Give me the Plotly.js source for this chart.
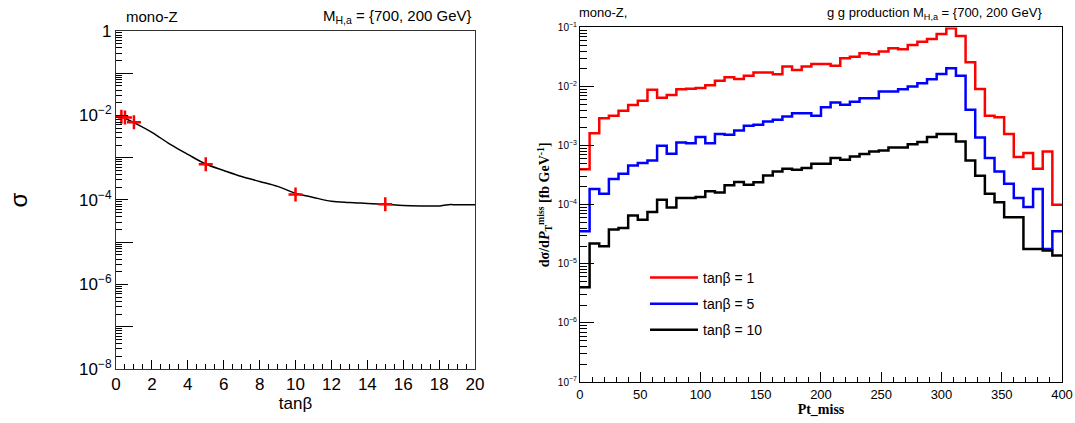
<!DOCTYPE html>
<html>
<head>
<meta charset="utf-8">
<script src="https://cdn.plot.ly/plotly-3.0.1.min.js"></script>
<style>html,body{margin:0;padding:0;background:#fff;}#chart{width:1075px;height:423px;}</style>
</head>
<body>
<div id="chart"></div>
<script>
// ---- Left panel: cross-section vs tan(beta) ----
const tanbPoints = [0.3, 0.5, 1, 5, 10, 15];
const sigmaPoints = [9.3e-3, 9.0e-3, 6.9e-3, 7.0e-4, 1.35e-4, 7.9e-5];

const tanbCurve = [0.3, 0.5, 1, 2, 3, 4, 5, 6, 7, 8, 9, 10, 11, 12, 13, 14, 15, 16, 17, 18, 18.5, 19, 20];
const sigmaCurve = [9.3e-3, 8.6e-3, 6.8e-3, 4.0e-3, 2.1e-3, 1.2e-3, 7.1e-4, 5.0e-4, 3.6e-4, 2.75e-4, 2.1e-4, 1.45e-4, 1.15e-4, 9.3e-5, 8.7e-5, 8.3e-5, 7.9e-5, 7.4e-5, 7.25e-5, 7.25e-5, 7.75e-5, 7.75e-5, 7.75e-5];

// ---- Right panel: dsigma/dPt_miss histograms (50 bins, 0-400 GeV) ----
const ptMin = 0, ptMax = 400, nBins = 50;
const seriesNames = ["tanβ = 1", "tanβ = 5", "tanβ = 10"];
const seriesColors = ["#ff0000", "#0000ff", "#000000"];

const tanb1 = [4.0e-4, 1.63e-3, 2.92e-3, 3.2e-3, 3.89e-3, 4.9e-3, 5.75e-3, 8.8e-3, 6.5e-3, 7.2e-3,
  9.0e-3, 9.2e-3, 9.5e-3, 1.05e-2, 1.25e-2, 1.44e-2, 1.35e-2, 1.53e-2, 1.73e-2, 1.73e-2,
  1.62e-2, 2.18e-2, 1.91e-2, 2.18e-2, 2.42e-2, 2.42e-2, 2.26e-2, 3.02e-2, 3.21e-2, 3.66e-2,
  3.52e-2, 3.91e-2, 4.45e-2, 4.28e-2, 5.06e-2, 5.75e-2, 6.4e-2, 7.76e-2, 9.7e-2, 7.18e-2,
  2.58e-2, 9.1e-3, 3.2e-3, 3.04e-3, 1.58e-3, 6.4e-4, 7.5e-4, 4.07e-4, 7.98e-4, 1.0e-4];

const tanb5 = [3.56e-5, 1.85e-4, 1.54e-4, 2.72e-4, 3.35e-4, 4.63e-4, 5.07e-4, 5.62e-4, 1.0e-3, 7.3e-4,
  1.13e-3, 1.1e-3, 1.4e-3, 1.1e-3, 1.58e-3, 1.53e-3, 1.81e-3, 2.17e-3, 2.25e-3, 2.56e-3,
  2.74e-3, 3.11e-3, 3.55e-3, 3.55e-3, 3.2e-3, 4.49e-3, 5.37e-3, 4.91e-3, 5.52e-3, 6.37e-3,
  6.37e-3, 8.24e-3, 8.24e-3, 9.0e-3, 1.0e-2, 1.14e-2, 1.33e-2, 1.64e-2, 2.04e-2, 1.52e-2,
  4.04e-3, 1.38e-3, 6.17e-4, 3.67e-4, 2.27e-4, 1.3e-4, 9.2e-5, 1.85e-4, 1.79e-5, 3.56e-5];

const tanb10 = [4.03e-6, 2.2e-5, 1.98e-5, 3.8e-5, 4.06e-5, 6.55e-5, 5.6e-5, 7.55e-5, 1.22e-4, 9.0e-5,
  1.3e-4, 1.3e-4, 1.35e-4, 1.69e-4, 1.62e-4, 2.13e-4, 2.43e-4, 2.19e-4, 2.4e-4, 3.14e-4,
  3.67e-4, 4.07e-4, 3.92e-4, 4.18e-4, 4.94e-4, 4.94e-4, 6.17e-4, 5.78e-4, 6.58e-4, 7.21e-4,
  7.98e-4, 8.3e-4, 9.33e-4, 9.33e-4, 1.06e-3, 1.15e-3, 1.4e-3, 1.57e-3, 1.57e-3, 1.18e-3,
  5.62e-4, 3.1e-4, 1.54e-4, 1.1e-4, 6.12e-5, 6.12e-5, 1.79e-5, 1.79e-5, 1.68e-5, 1.38e-5];

const leftTickVals = [1, 1e-2, 1e-4, 1e-6, 1e-8];
const leftTickText = ["1", "10<sup>−2</sup>", "10<sup>−4</sup>", "10<sup>−6</sup>", "10<sup>−8</sup>"];
const leftOddDecades = [1e-1, 1e-3, 1e-5, 1e-7];
const rightTickVals = [1e-1, 1e-2, 1e-3, 1e-4, 1e-5, 1e-6, 1e-7];
const rightTickText = ["10<sup>−1</sup>", "10<sup>−2</sup>", "10<sup>−3</sup>", "10<sup>−4</sup>", "10<sup>−5</sup>", "10<sup>−6</sup>", "10<sup>−7</sup>"];

// minor log ticks (2..9 x each decade)
function minorLogTicks(loExp, hiExp) {
  const v = [];
  for (let e = loExp; e < hiExp; e++) for (let m = 2; m <= 9; m++) v.push(m * Math.pow(10, e));
  return v;
}

// build step-histogram coordinates from bin definitions
const binWidth = (ptMax - ptMin) / nBins;
function stepX() {
  const xs = [];
  for (let i = 0; i <= nBins; i++) xs.push(ptMin + i * binWidth);
  return xs;
}
function stepY(vals) { return vals.concat([vals[vals.length - 1]]); }

const sans = "Liberation Sans, Arial, sans-serif";
const serif = "Liberation Serif, Times New Roman, serif";

const traces = [
  {x: tanbCurve, y: sigmaCurve, xaxis: 'x', yaxis: 'y', mode: 'lines', line: {color: '#000', width: 1.5, shape: 'spline'}, showlegend: false, hoverinfo: 'skip'},
  {x: tanbPoints, y: sigmaPoints, xaxis: 'x', yaxis: 'y', mode: 'markers', marker: {symbol: 'cross-thin', size: 10, color: '#ff0000', line: {color: '#ff0000', width: 2.5}}, showlegend: false},
  {x: [], y: [], xaxis: 'x', yaxis: 'y3', mode: 'lines', showlegend: false},
  {x: [], y: [], xaxis: 'x', yaxis: 'y5', mode: 'lines', showlegend: false},
  {x: [], y: [], xaxis: 'x2', yaxis: 'y4', mode: 'lines', showlegend: false}
];
[tanb1, tanb5, tanb10].forEach((vals, k) => {
  traces.push({x: stepX(), y: stepY(vals), xaxis: 'x2', yaxis: 'y2', mode: 'lines', name: seriesNames[k],
    legendgroup: 'g' + k,
    line: {color: seriesColors[k], width: 2.5, shape: 'hv'}, showlegend: true});
});

const overlayBase = {side: 'left', type: 'log', showticklabels: false, tickmode: 'array',
  ticks: 'inside', tickcolor: '#000', showline: false, showgrid: false, zeroline: false};

const layout = {
  width: 1075, height: 423,
  margin: {l: 0, r: 0, t: 0, b: 0},
  paper_bgcolor: '#fff', plot_bgcolor: '#fff',
  font: {family: sans, color: '#000'},
  showlegend: true,
  legend: {x: 645 / 1075, y: 0.381, xanchor: 'left', yanchor: 'top', bgcolor: 'rgba(0,0,0,0)',
    font: {family: sans, size: 14}, tracegroupgap: 5, itemwidth: 48},
  xaxis: {domain: [0.1079, 0.4419], range: [0, 20], anchor: 'y',
    tickmode: 'linear', tick0: 0, dtick: 2, ticks: 'inside', ticklen: 9, tickcolor: '#000',
    minor: {ticks: 'inside', ticklen: 5, dtick: 0.5, tickcolor: '#000'},
    showline: true, linecolor: '#333', linewidth: 1, mirror: true, showgrid: false, zeroline: false,
    tickfont: {size: 17, family: sans},
    title: {text: 'tanβ', font: {size: 17, family: sans}, standoff: 1}},
  yaxis: {domain: [0.1277, 0.9267], type: 'log', range: [-8, 0], anchor: 'x',
    tickmode: 'array', tickvals: leftTickVals, ticktext: leftTickText,
    ticks: 'inside', ticklen: 12, tickcolor: '#000',
    showline: true, linecolor: '#333', linewidth: 1, mirror: true, showgrid: false, zeroline: false,
    tickfont: {size: 17, family: sans},
    title: {text: 'σ', font: {size: 24, family: sans}, standoff: 44}},
  yaxis3: Object.assign({}, overlayBase, {overlaying: 'y', anchor: 'x', range: [-8, 0],
    tickvals: minorLogTicks(-8, 0), ticklen: 6}),
  yaxis5: Object.assign({}, overlayBase, {overlaying: 'y', anchor: 'x', range: [-8, 0],
    tickvals: leftOddDecades, ticklen: 17}),
  xaxis2: {domain: [0.5395, 0.9879], range: [0, 400], anchor: 'y2',
    tickmode: 'linear', tick0: 0, dtick: 50, ticks: 'inside', ticklen: 10, tickcolor: '#000',
    minor: {ticks: 'inside', ticklen: 5, dtick: 10, tickcolor: '#000'},
    showline: true, linecolor: '#000', linewidth: 1, mirror: true, showgrid: false, zeroline: false,
    tickfont: {size: 13, family: sans},
    title: {text: '<b>Pt_miss</b>', font: {size: 14, family: serif}, standoff: 1}},
  yaxis2: {domain: [0.0969, 0.935], type: 'log', range: [-7, -1], anchor: 'x2',
    tickmode: 'array', tickvals: rightTickVals, ticktext: rightTickText,
    ticks: 'inside', ticklen: 14, tickcolor: '#000',
    showline: true, linecolor: '#000', linewidth: 1, mirror: true, showgrid: false, zeroline: false,
    tickfont: {size: 10, family: sans},
    title: {text: '<b>dσ/d<i>P</i><sub>T</sub><sup>miss</sup> [fb GeV<sup>-1</sup>]</b>', font: {size: 14, family: serif}, standoff: 4}},
  yaxis4: Object.assign({}, overlayBase, {overlaying: 'y2', anchor: 'x2', range: [-7, -1],
    tickvals: minorLogTicks(-7, -1), ticklen: 7}),
  annotations: [
    {text: 'mono-Z', xref: 'paper', yref: 'paper', x: 124 / 1075, y: 1 - 16 / 423, xanchor: 'left', yanchor: 'middle', showarrow: false, font: {size: 15, family: sans}},
    {text: 'M<sub>H,a</sub> = {700, 200 GeV}', xref: 'paper', yref: 'paper', x: 474 / 1075, y: 1 - 16 / 423, xanchor: 'right', yanchor: 'middle', showarrow: false, font: {size: 15, family: sans}},
    {text: 'mono-Z,', xref: 'paper', yref: 'paper', x: 577 / 1075, y: 1 - 12 / 423, xanchor: 'left', yanchor: 'middle', showarrow: false, font: {size: 13, family: sans}},
    {text: 'g g production M<sub>H,a</sub> = {700, 200 GeV}', xref: 'paper', yref: 'paper', x: 1044 / 1075, y: 1 - 13 / 423, xanchor: 'right', yanchor: 'middle', showarrow: false, font: {size: 13, family: sans}}
  ]
};

Plotly.newPlot('chart', traces, layout, {displayModeBar: false, staticPlot: true});
</script>
</body>
</html>
